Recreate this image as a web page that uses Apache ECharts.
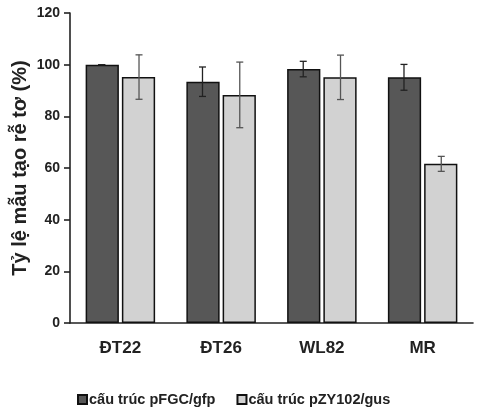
<!DOCTYPE html>
<html>
<head>
<meta charset="utf-8">
<script src="https://cdn.jsdelivr.net/npm/echarts@6/dist/echarts.min.js"></script>
<style>
  html, body { margin: 0; padding: 0; background: #fff; }
  #chart { width: 490px; height: 409px; }
</style>
</head>
<body>
<div id="chart"></div>
<script>
// số liệu
var categories = ['ĐT22', 'ĐT26', 'WL82', 'MR'];
var seriesNames = ['cấu trúc pFGC/gfp', 'cấu trúc pZY102/gus'];
var pfgcValues = [100, 93.4, 98.3, 95.1];
var pfgcErrors = [0, 5.7, 3.0, 5.0];
var pzyValues = [95.2, 88.3, 95.1, 61.6];
var pzyErrors = [8.6, 12.7, 8.6, 2.9];
var yTicks = [0, 20, 40, 60, 80, 100, 120];

var FONT = '"Liberation Sans", Arial, sans-serif';

// vẽ thanh sai số, lệch sang trái/phải theo vị trí cột trong nhóm
function errorBar(values, errors, side, color) {
    return {
        type: 'custom',
        z: 10,
        silent: true,
        data: values.map(function (v, i) { return [i, v - errors[i], v + errors[i]]; }),
        renderItem: function (params, api) {
            var lo = api.coord([api.value(0), api.value(1)]);
            var hi = api.coord([api.value(0), api.value(2)]);
            var band = api.size([1, 0])[0];
            var x = lo[0] + side * band * 0.185;
            var cap = 3.5;
            var st = { stroke: color, lineWidth: 1.3 };
            return {
                type: 'group',
                children: [
                    { type: 'line', shape: { x1: x, y1: lo[1], x2: x, y2: hi[1] }, style: st },
                    { type: 'line', shape: { x1: x - cap, y1: lo[1], x2: x + cap, y2: lo[1] }, style: st },
                    { type: 'line', shape: { x1: x - cap, y1: hi[1], x2: x + cap, y2: hi[1] }, style: st }
                ]
            };
        }
    };
}

var myChart = echarts.init(document.getElementById('chart'));
myChart.setOption({
    animation: false,
    textStyle: { fontFamily: FONT },
    grid: { left: 70, right: 17, top: 13, bottom: 86, outerBoundsMode: 'none' },
    legend: {
        data: seriesNames,
        left: 72,
        top: 387,
        icon: 'rect',
        itemWidth: 9,
        itemHeight: 9,
        itemGap: 21,
        textStyle: { fontFamily: FONT, fontSize: 14.5, fontWeight: 'bold', color: '#222', padding: [0, 0, 0, -3] }
    },
    xAxis: {
        type: 'category',
        data: categories,
        axisLine: { lineStyle: { color: '#222', width: 1.6 } },
        axisTick: { show: false },
        axisLabel: { fontFamily: FONT, fontSize: 17, fontWeight: 'bold', color: '#222', margin: 17 }
    },
    yAxis: {
        type: 'value',
        min: yTicks[0],
        max: yTicks[yTicks.length - 1],
        interval: 20,
        name: 'Tỷ lệ mẫu tạo rễ tơ (%)',
        nameLocation: 'middle',
        nameGap: 40,
        nameMoveOverlap: false,
        nameTextStyle: { fontFamily: FONT, fontSize: 20, fontWeight: 'bold', color: '#222' },
        splitLine: { show: false },
        axisLine: { show: true, lineStyle: { color: '#222', width: 1.6 } },
        axisTick: { show: true, length: 6, lineStyle: { color: '#222', width: 1.6 } },
        axisLabel: { fontFamily: FONT, fontSize: 14, fontWeight: 'bold', color: '#222', margin: 10 }
    },
    series: [
        {
            name: seriesNames[0],
            type: 'bar',
            data: pfgcValues,
            barWidth: '33%',
            barGap: '9%',
            itemStyle: { color: '#575757', borderColor: '#111', borderWidth: 1.5 }
        },
        {
            name: seriesNames[1],
            type: 'bar',
            data: pzyValues,
            barWidth: '33%',
            itemStyle: { color: '#d2d2d2', borderColor: '#111', borderWidth: 1.5 }
        },
        errorBar(pfgcValues, pfgcErrors, -1, '#222'),
        errorBar(pzyValues, pzyErrors, 1, '#555')
    ]
});
</script>
</body>
</html>
